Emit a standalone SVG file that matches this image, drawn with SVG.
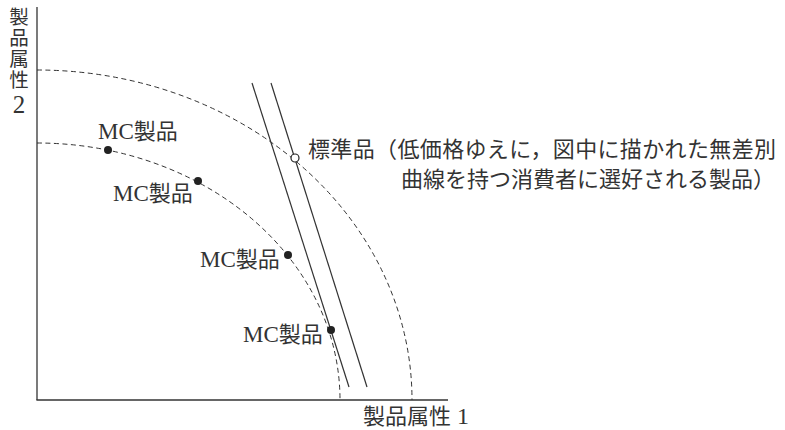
<svg xmlns="http://www.w3.org/2000/svg" width="785" height="430" viewBox="0 0 785 430">
<style>
.axis{stroke:#333;stroke-width:1.3;fill:none}
.curve{stroke:#333;stroke-width:1;fill:none;stroke-dasharray:5 3.5}
.line{stroke:#333;stroke-width:1.2;fill:none}
.dot{fill:#222}
.odot{fill:#fff;stroke:#222;stroke-width:1.2}
text{font-family:"Liberation Serif","Noto Sans CJK JP",serif;fill:#333}
.cjk{font-family:"Noto Sans CJK JP","Liberation Serif",serif}
.lab{font-size:22px}
.lat{font-size:23px}
.yl{font-size:19.5px;writing-mode:vertical-rl;text-orientation:upright;letter-spacing:1.5px}
</style>
<rect width="785" height="430" fill="#fff"/>
<g id="axes">
<line class="axis" x1="37" y1="7" x2="37" y2="400"/>
<line class="axis" x1="36.4" y1="400" x2="448" y2="400"/>
</g>
<g id="ylabel">
<text class="yl" x="19" y="7"><tspan class="cjk">製品属性</tspan><tspan font-size="25">2</tspan></text>
</g>
<g id="xlabel">
<text x="363" y="424"><tspan class="cjk" font-size="22">製品属性</tspan><tspan font-size="24"> 1</tspan></text>
</g>
<g id="connectors">
<path id="outer-curve" class="curve" d="M37,70 A375,330 0 0 1 412,400"/>
<path id="inner-curve" class="curve" d="M37,143 A303,257 0 0 1 340,400"/>
<line class="line" x1="252" y1="83" x2="349" y2="387"/>
<line class="line" x1="271" y1="83" x2="367" y2="387"/>
</g>
<g id="mc1">
<circle class="dot" cx="108" cy="150" r="4"/>
<text x="98" y="139"><tspan class="lat">MC</tspan><tspan class="cjk lab">製品</tspan></text>
</g>
<g id="mc2">
<circle class="dot" cx="198" cy="181" r="4"/>
<text x="113" y="201"><tspan class="lat">MC</tspan><tspan class="cjk lab">製品</tspan></text>
</g>
<g id="mc3">
<circle class="dot" cx="288" cy="255" r="4"/>
<text x="200" y="267"><tspan class="lat">MC</tspan><tspan class="cjk lab">製品</tspan></text>
</g>
<g id="mc4">
<circle class="dot" cx="331" cy="330" r="4"/>
<text x="243" y="342"><tspan class="lat">MC</tspan><tspan class="cjk lab">製品</tspan></text>
</g>
<g id="standard">
<circle class="odot" cx="295" cy="158" r="4"/>
<text class="cjk lab" x="308" y="157" textLength="468" lengthAdjust="spacing">標準品（低価格ゆえに，図中に描かれた無差別</text>
<text class="cjk lab" x="401" y="187">曲線を持つ消費者に選好される製品）</text>
</g>
</svg>
